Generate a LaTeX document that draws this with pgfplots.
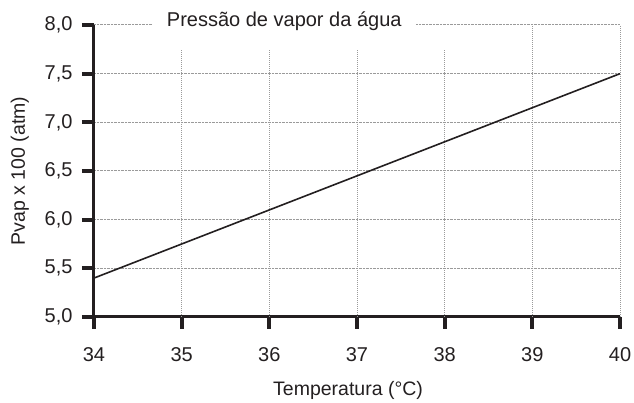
\documentclass[border=0pt]{standalone}
\usepackage{pgfplots}
\pgfplotsset{compat=1.18}
\usepackage{fontspec}
\setmainfont{Liberation Sans}
\definecolor{ink}{HTML}{231F20}
\definecolor{gridc}{HTML}{9A9A9A}
\begin{document}
\begin{tikzpicture}[x=1pt,y=1pt]
\path[use as bounding box] (-94,-86) rectangle (540,317);
\begin{axis}[
  at={(0,0)}, anchor=south west,
  scale only axis, width=526pt, height=292pt,
  xmin=34, xmax=40, ymin=5, ymax=8,
  clip=false,
  axis x line=bottom, axis y line=left,
  axis line style={ink, line width=3pt, -},
  xtick={34,35,...,40},
  ytick={5,5.5,...,8},
  tick align=outside,
  major tick length=12pt,
  xtick style={ink, line width=4pt},
  ytick style={ink, line width=4pt},
  ymajorgrids=true,
  major grid style={gridc, densely dotted, line width=1pt},
  /pgf/number format/assume math mode=true,
  yticklabel style={/pgf/number format/fixed, /pgf/number format/fixed zerofill, /pgf/number format/precision=1, /pgf/number format/use comma, xshift=-6pt},
  xticklabel style={/pgf/number format/fixed, /pgf/number format/precision=0, yshift=-15pt},
  ticklabel style={font=\fontsize{20}{23}\selectfont, text=ink},
  xlabel={Temperatura (°C)},
  ylabel={Pvap x 100 (atm)},
  label style={font=\fontsize{19.5}{22}\selectfont, text=ink},
  xlabel style={at={(axis description cs:0.483,-0.253)}, anchor=center},
  ylabel style={at={(axis description cs:-0.141,0.5)}, anchor=center},
]
% vertical grid lines (shortened under the title box)
\draw[gridc, densely dotted, line width=1pt] (axis cs:35,5) -- (axis cs:35,7.743);
\draw[gridc, densely dotted, line width=1pt] (axis cs:36,5) -- (axis cs:36,7.743);
\draw[gridc, densely dotted, line width=1pt] (axis cs:37,5) -- (axis cs:37,7.743);
\draw[gridc, densely dotted, line width=1pt] (axis cs:38,5) -- (axis cs:38,7.743);
\draw[gridc, densely dotted, line width=1pt] (axis cs:39,5) -- (axis cs:39,8);
\draw[gridc, densely dotted, line width=1pt] (axis cs:40,5) -- (axis cs:40,8);
\addplot[ink, line width=1.6pt, mark=none] coordinates {
  (34,5.40) (35,5.75) (36,6.10) (37,6.45) (38,6.80) (39,7.15) (40,7.50)
};
\node[fill=white, inner xsep=14pt, inner ysep=4pt, text=ink,
      font=\fontsize{20}{23}\selectfont, yshift=4pt]
  at (axis cs:36.17,8.0) {Pressão de vapor da água};
\end{axis}
\end{tikzpicture}
\end{document}
